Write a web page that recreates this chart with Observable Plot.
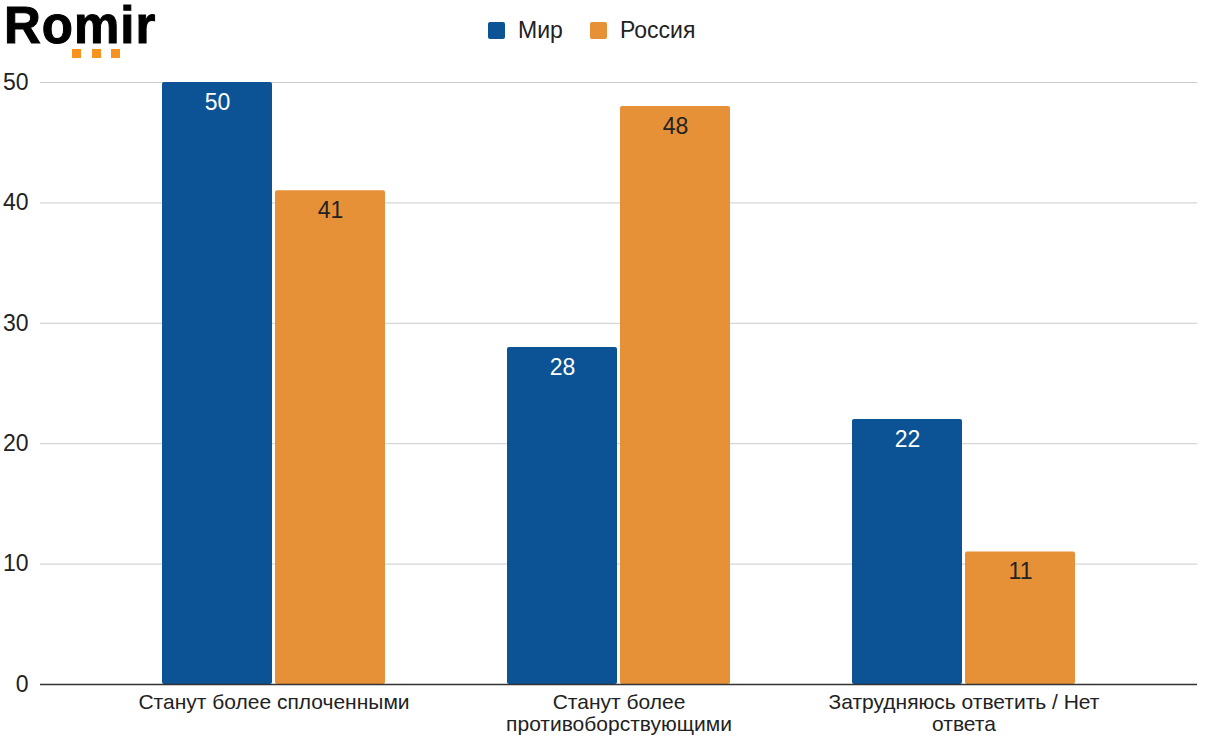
<!DOCTYPE html>
<html>
<head>
<meta charset="utf-8">
<script src="https://cdn.jsdelivr.net/npm/d3@7"></script>
<script src="https://cdn.jsdelivr.net/npm/@observablehq/plot@0.6"></script>
<style>
  html, body { margin: 0; padding: 0; background: #fff; }
  body { width: 1207px; font-family: "Liberation Sans", Arial, sans-serif; }
  #header { position: relative; height: 60px; }
  #logo { position: absolute; left: 4px; top: 0px; font: bold 51px/1 "Liberation Sans", Arial, sans-serif; letter-spacing: 1px; color: #000; -webkit-text-stroke: 1px #000; }
  .dot { position: absolute; top: 49px; width: 9px; height: 9px; background: #f7931e; }
  #legend { position: absolute; left: 488px; top: 16px; font-size: 23px; color: #222; }
  .sw { position: absolute; top: 6px; width: 17px; height: 17px; border-radius: 2px; }
  .lt { position: absolute; top: 0; white-space: nowrap; line-height: 28px; }
  #chartwrap { position: relative; width: 1207px; height: 691px; }
  #chartwrap svg { position: absolute; left: 0; top: 0; }
</style>
</head>
<body>
<div id="header">
  <div id="logo">Romir</div>
  <div class="dot" style="left:72px"></div>
  <div class="dot" style="left:92px"></div>
  <div class="dot" style="left:111px"></div>
  <div id="legend"></div>
</div>
<div id="chartwrap"></div>
<script>
const categories = ["Станут более сплоченными", "Станут более противоборствующими", "Затрудняюсь ответить / Нет ответа"];
const categoryTickLabels = ["Станут более сплоченными", "Станут более\nпротивоборствующими", "Затрудняюсь ответить / Нет\nответа"];
const series = ["Мир", "Россия"];
const seriesColors = ["#0b5394", "#e69138"];
const mirValues = [50, 28, 22];
const russiaValues = [41, 48, 11];
const yTicks = [0, 10, 20, 30, 40, 50];

const data = categories.flatMap((c, i) => [
  {category: c, series: series[0], value: mirValues[i]},
  {category: c, series: series[1], value: russiaValues[i]}
]);

const legend = document.getElementById("legend");
const legendOffsets = [0, 102];
series.forEach((s, i) => {
  const o = legendOffsets[i];
  legend.insertAdjacentHTML("beforeend",
    `<span class="sw" style="left:${o}px;background:${seriesColors[i]}"></span><span class="lt" style="left:${o + 30}px">${s}</span>`);
});

const common = {
  width: 1207,
  height: 691,
  marginTop: 22,
  marginBottom: 67,
  marginLeft: 40,
  marginRight: 10,
  style: {fontFamily: "'Liberation Sans', Arial, sans-serif", color: "#222", background: "transparent"},
  y: {domain: [0, 50], axis: null}
};

// background layer: grid, y tick labels
const back = Plot.plot({
  ...common,
  marks: [
    Plot.ruleY(yTicks.filter(d => d > 0), {y: d => d, stroke: "#cccccc"}),
    Plot.text(yTicks, {y: d => d, text: d => String(d), frameAnchor: "left", textAnchor: "end", dx: -12, fontSize: 23, fill: "#222"})
  ]
});

// foreground layer: grouped bars
const front = Plot.plot({
  ...common,
  fx: {domain: categories, range: [100, 1136], padding: 0, label: null, axis: null},
  x: {domain: series, paddingInner: 0.027, paddingOuter: 0.53, axis: null},
  color: {domain: series, range: seriesColors},
  marks: [
    Plot.barY(data, {fx: "category", x: "series", y: "value", fill: "series", rx: 2}),
    Plot.text(data, {fx: "category", x: "series", y: "value", text: d => String(d.value), dy: 20, fontSize: 23, fill: d => d.series === series[0] ? "#ffffff" : "#222"}),
    Plot.axisFx({anchor: "bottom", tickSize: 0, tickPadding: 9, fontSize: 21, lineHeight: 1.05, label: null, fill: "#222",
      tickFormat: d => categoryTickLabels[categories.indexOf(d)]})
  ]
});

// baseline layer on top
const base = Plot.plot({
  ...common,
  marks: [Plot.ruleY([0], {stroke: "#333", strokeWidth: 1.3})]
});

const wrap = document.getElementById("chartwrap");
wrap.appendChild(back);
wrap.appendChild(front);
wrap.appendChild(base);
</script>
</body>
</html>
